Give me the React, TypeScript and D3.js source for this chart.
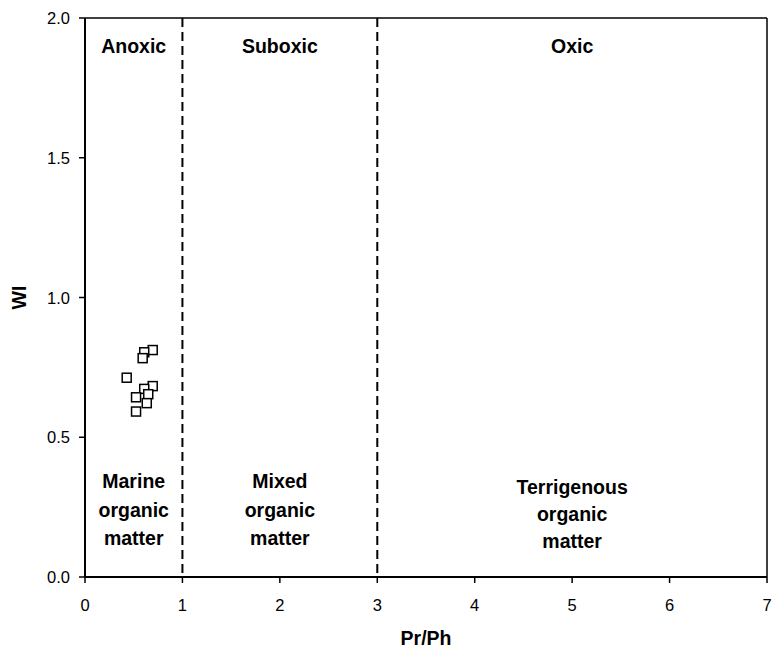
import React from "react";
import * as d3 from "d3";

const prPh = [0.695, 0.608, 0.592, 0.428, 0.695, 0.608, 0.649, 0.524, 0.634, 0.524];
const wi = [0.812, 0.804, 0.783, 0.713, 0.683, 0.673, 0.654, 0.643, 0.622, 0.592];
const xTicks = [0, 1, 2, 3, 4, 5, 6, 7];
const yTicks = [0, 0.5, 1.0, 1.5, 2.0];
const boundaries = [1, 3];
const zoneTop = [
  { x: 0.5, label: "Anoxic" },
  { x: 2, label: "Suboxic" },
  { x: 5, label: "Oxic" },
];
const zoneBottom = [
  { x: 0.5, lines: ["Marine", "organic", "matter"], y0: 488, dy: 28.5 },
  { x: 2, lines: ["Mixed", "organic", "matter"], y0: 488, dy: 28.5 },
  { x: 5, lines: ["Terrigenous", "organic", "matter"], y0: 494, dy: 27 },
];

export default function App() {
  const W = 774, H = 651;
  const left = 85, right = 767, top = 18, bottom = 577;
  const x = d3.scaleLinear().domain([0, 7]).range([left, right]);
  const y = d3.scaleLinear().domain([0, 2]).range([bottom, top]);
  const font = "Liberation Sans, Arial, sans-serif";
  const s = 9;
  return (
    <svg width={W} height={H} style={{ position: "absolute", left: 0, top: 0, background: "#fff" }} fontFamily={font}>
      <rect x={0} y={0} width={W} height={H} fill="#fff" />
      <line x1={left} x2={right} y1={top} y2={top} stroke="#000" strokeWidth={1.5} />
      <line x1={right} x2={right} y1={top} y2={bottom} stroke="#000" strokeWidth={1.5} />
      {boundaries.map((b) => (
        <line key={b} x1={x(b)} x2={x(b)} y1={top} y2={bottom} stroke="#000" strokeWidth={2} strokeDasharray="9,5" />
      ))}
      <line x1={left} x2={left} y1={top} y2={bottom} stroke="#000" strokeWidth={2} />
      <line x1={left} x2={right} y1={bottom} y2={bottom} stroke="#000" strokeWidth={2} />
      {yTicks.map((t) => (
        <g key={t}>
          <line x1={left - 6} x2={left} y1={y(t)} y2={y(t)} stroke="#000" strokeWidth={1.5} />
          <text x={70} y={y(t) + 6} textAnchor="end" fontSize={16.5}>{t.toFixed(1)}</text>
        </g>
      ))}
      {xTicks.map((t) => (
        <g key={t}>
          <line x1={x(t)} x2={x(t)} y1={bottom} y2={bottom + 6} stroke="#000" strokeWidth={1.5} />
          <text x={x(t)} y={611} textAnchor="middle" fontSize={16.5}>{t}</text>
        </g>
      ))}
      <text x={(left + right) / 2} y={645} textAnchor="middle" fontSize={19.5} fontWeight="bold">Pr/Ph</text>
      <text transform={`translate(26, ${(top + bottom) / 2}) rotate(-90)`} textAnchor="middle" fontSize={19.5} fontWeight="bold">WI</text>
      {zoneTop.map((z) => (
        <text key={z.label} x={x(z.x)} y={53} textAnchor="middle" fontSize={19.5} fontWeight="bold">{z.label}</text>
      ))}
      {zoneBottom.map((z, i) => (
        <g key={i}>
          {z.lines.map((l, j) => (
            <text key={j} x={x(z.x)} y={z.y0 + j * z.dy} textAnchor="middle" fontSize={19.5} fontWeight="bold">{l}</text>
          ))}
        </g>
      ))}
      {prPh.map((v, i) => (
        <rect key={i} x={x(v) - s / 2} y={y(wi[i]) - s / 2} width={s} height={s} fill="#fff" stroke="#000" strokeWidth={1.5} />
      ))}
    </svg>
  );
}
